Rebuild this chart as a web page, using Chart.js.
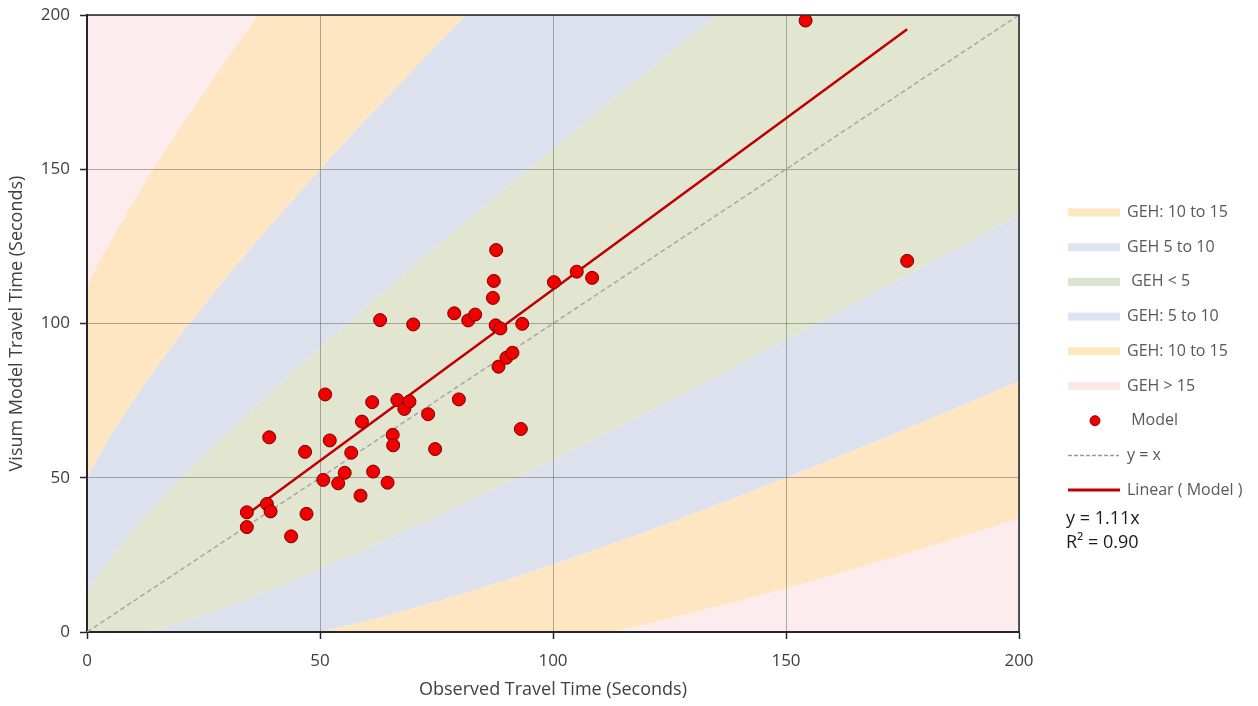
<!DOCTYPE html>
<html>
<head>
<meta charset="utf-8">
<script src="https://cdn.jsdelivr.net/npm/chart.js@4.4.1/dist/chart.umd.min.js"></script>
<style>
  html, body { margin: 0; padding: 0; background: #fff; }
</style>
</head>
<body>
<canvas id="chart" width="1258" height="706"></canvas>
<script>
// axis ticks (both axes)
const axisTicks = [0, 50, 100, 150, 200];

// Model points: observed (x) vs Visum model (y) travel time, seconds
const observed = [34.3, 34.3, 38.6, 39.4, 39.1, 43.8, 46.8, 47.1, 50.7, 51.1,
  52.1, 53.9, 55.3, 56.7, 58.7, 59.0, 61.2, 61.4, 62.9, 64.5,
  65.6, 65.7, 66.6, 68.1, 69.2, 70.0, 73.2, 74.7, 78.8, 79.8,
  81.8, 83.3, 87.1, 87.3, 87.8, 87.7, 88.7, 88.3, 90.0, 91.3,
  93.1, 93.4, 100.2, 105.1, 108.4, 154.2, 176.0];
const modelled = [38.8, 34.0, 41.5, 39.1, 63.1, 31.0, 58.4, 38.3, 49.3, 77.0,
  62.1, 48.2, 51.6, 58.1, 44.2, 68.2, 74.5, 52.0, 101.1, 48.4,
  63.9, 60.5, 75.2, 72.3, 74.7, 99.7, 70.6, 59.3, 103.3, 75.4,
  101.0, 102.9, 108.3, 113.8, 123.8, 99.4, 98.4, 86.0, 88.9, 90.5,
  65.8, 99.9, 113.4, 116.8, 114.8, 198.2, 120.3];

// linear trend (y = 1.11x) and the y = x reference
const trendX = [34.3, 176.0];
const trendY = [38.1, 195.4];
const diagX = [0, 200];
const diagY = [0, 200];

// GEH band boundaries read along the observed axis
const bandX = [0, 2, 5, 10, 15, 20, 30, 40, 50, 60, 70, 80, 90, 100,
  110, 120, 130, 140, 150, 160, 170, 180, 190, 200];
const geh5Upper = [12.5, 17.7, 24.1, 33.3, 41.6, 49.5, 64.3, 78.5, 92.2, 105.5, 118.6, 131.4, 144.1, 156.6,
  169.1, 181.4, 193.6, 205.7, 217.8, 229.8, 241.7, 253.6, 265.5, 277.2];
const geh5Lower = [0, -1.2, -1.6, -0.8, 0.9, 3.0, 8.2, 14.0, 20.4, 27.0, 34.0, 41.1, 48.4, 55.9,
  63.4, 71.1, 78.9, 86.8, 94.7, 102.7, 110.8, 118.9, 127.1, 135.3];
const geh10Upper = [50, 55.7, 63.5, 75.3, 86.1, 96.2, 115.2, 133.0, 150, 166.4, 182.3, 197.9, 213.1, 228.1,
  242.8, 257.4, 271.7, 285.9, 300, 313.9, 327.8, 341.5, 355.1, 368.6];
const geh10Lower = [0, -1.7, -3.5, -5.3, -6.1, -6.2, -5.2, -3.0, 0, 3.6, 7.7, 12.1, 16.9, 21.9,
  27.2, 32.6, 38.3, 44.1, 50, 56.1, 62.2, 68.5, 74.9, 81.4];
const geh15Upper = [112.5, 118.4, 126.7, 139.8, 152.1, 163.8, 185.8, 206.5, 226.3, 245.3, 263.8, 281.7, 299.3, 316.5,
  333.3, 349.9, 366.3, 382.4, 398.4, 414.2, 429.8, 445.2, 460.5, 475.7];
const geh15Lower = [0, -1.9, -4.2, -7.3, -9.6, -11.3, -13.3, -14.0, -13.8, -12.8, -11.3, -9.2, -6.8, -4.0,
  -0.8, 2.6, 6.2, 10.1, 14.1, 18.4, 22.8, 27.3, 32.0, 36.8];

const legendLabels = ['GEH: 10 to 15', 'GEH 5 to 10', ' GEH < 5', 'GEH: 5 to 10', 'GEH: 10 to 15',
  'GEH > 15', ' Model', 'y = x', 'Linear ( Model )'];
const equationLines = ['y = 1.11x', 'R² = 0.90'];

const colPink = '#fcecee', colOrange = '#fde6c1', colBlue = '#dce1ed', colGreen = '#e2e6d1';
const FONT = "'Open Sans', 'Noto Sans', sans-serif";

const pts = (xs, ys) => xs.map((x, i) => ({ x: x, y: ys[i] }));

function band(ys, color, fill) {
  return {
    type: 'line',
    data: pts(bandX, ys),
    borderWidth: 0,
    borderColor: 'rgba(0,0,0,0)',
    backgroundColor: color,
    pointRadius: 0,
    tension: 0,
    fill: fill
  };
}

// draws the frame on top/right and the legend at the side
const sidePlugin = {
  id: 'sideLegend',
  afterDraw(chart) {
    const ctx = chart.ctx;
    const a = chart.chartArea;
    ctx.save();
    ctx.strokeStyle = '#262626';
    ctx.lineWidth = 1.5;
    ctx.beginPath();
    ctx.moveTo(a.left, a.top);
    ctx.lineTo(a.right, a.top);
    ctx.lineTo(a.right, a.bottom);
    ctx.stroke();

    const sx = a.right + 49;
    const tx = a.right + 108;
    const y0 = 212.5;
    const step = 34.7;
    const swatches = ['#fde8c0', '#dce5f1', '#d8e4cd', '#dce5f1', '#fde8c0', '#fbe9ea'];
    ctx.font = '16px ' + FONT;
    ctx.textBaseline = 'middle';
    ctx.textAlign = 'left';
    legendLabels.forEach((label, i) => {
      const y = y0 + i * step;
      if (i < 6) {
        ctx.fillStyle = swatches[i];
        ctx.fillRect(sx, y - 4, 52, 8);
      } else if (i === 6) {
        ctx.fillStyle = '#ee0000';
        ctx.strokeStyle = '#990000';
        ctx.lineWidth = 1;
        ctx.beginPath();
        ctx.arc(sx + 27, y, 5, 0, Math.PI * 2);
        ctx.fill();
        ctx.stroke();
      } else if (i === 7) {
        ctx.strokeStyle = '#9a9a9a';
        ctx.lineWidth = 1.5;
        ctx.setLineDash([4, 2]);
        ctx.beginPath();
        ctx.moveTo(sx, y);
        ctx.lineTo(sx + 51, y);
        ctx.stroke();
        ctx.setLineDash([]);
      } else {
        ctx.strokeStyle = '#c00000';
        ctx.lineWidth = 3;
        ctx.beginPath();
        ctx.moveTo(sx, y);
        ctx.lineTo(sx + 52, y);
        ctx.stroke();
      }
      ctx.fillStyle = '#595959';
      ctx.fillText(label, tx, y);
    });
    ctx.fillStyle = '#1a1a1a';
    ctx.font = '18px ' + FONT;
    equationLines.forEach((t, i) => ctx.fillText(t, sx - 2, 519 + i * 24));
    ctx.restore();
  }
};

new Chart(document.getElementById('chart'), {
  type: 'scatter',
  data: {
    datasets: [
      {
        type: 'scatter',
        label: 'Model',
        data: pts(observed, modelled),
        pointRadius: 6.5,
        pointBackgroundColor: '#f00000',
        pointBorderColor: '#7a0000',
        pointBorderWidth: 1
      },
      {
        type: 'line',
        label: 'Linear ( Model )',
        data: pts(trendX, trendY),
        borderColor: '#c00000',
        borderWidth: 2.5,
        pointRadius: 0,
        fill: false
      },
      {
        type: 'line',
        label: 'y = x',
        data: pts(diagX, diagY),
        borderColor: '#a6a6a6',
        borderWidth: 1.5,
        borderDash: [5, 3],
        pointRadius: 0,
        fill: false
      },
      band(geh15Upper, colPink, 'end'),   // 3
      band(geh10Upper, colOrange, 3),     // 4
      band(geh5Upper, colBlue, 4),        // 5
      band(geh5Lower, colGreen, 5),       // 6
      band(geh10Lower, colBlue, 6),       // 7
      band(geh15Lower, colOrange, 7),     // 8
      band(geh15Lower, colPink, 'start')  // 9
    ]
  },
  options: {
    responsive: false,
    animation: false,
    layout: { padding: { top: 15, right: 239, left: 0, bottom: 0 } },
    plugins: {
      legend: { display: false },
      tooltip: { enabled: false },
      filler: { drawTime: 'beforeDraw' }
    },
    scales: {
      x: {
        type: 'linear',
        min: 0,
        max: 200,
        afterBuildTicks: (s) => { s.ticks = axisTicks.map(v => ({ value: v })); },
        afterFit: (s) => { s.height = 74; },
        grid: { color: 'rgba(90,100,90,0.5)', tickColor: '#262626', tickLength: 7, tickWidth: 1.5 },
        border: { color: '#262626', width: 2 },
        ticks: { color: '#404040', font: { family: FONT, size: 17 }, padding: 12 },
        title: {
          display: true,
          text: 'Observed Travel Time (Seconds)',
          color: '#404040',
          font: { family: FONT, size: 18 },
          padding: { top: 0, bottom: 5 }
        }
      },
      y: {
        type: 'linear',
        min: 0,
        max: 200,
        afterBuildTicks: (s) => { s.ticks = axisTicks.map(v => ({ value: v })); },
        afterFit: (s) => { s.width = 87; s.paddingTop = 0; s.paddingBottom = 0; },
        grid: { color: 'rgba(90,100,90,0.5)', tickColor: '#262626', tickLength: 7, tickWidth: 1.5 },
        border: { color: '#262626', width: 2 },
        ticks: { color: '#404040', font: { family: FONT, size: 17 }, padding: 10 },
        title: {
          display: true,
          text: 'Visum Model Travel Time (Seconds)',
          color: '#404040',
          font: { family: FONT, size: 18 },
          padding: { top: 6, bottom: 0 }
        }
      }
    }
  },
  plugins: [sidePlugin]
});
</script>
</body>
</html>
